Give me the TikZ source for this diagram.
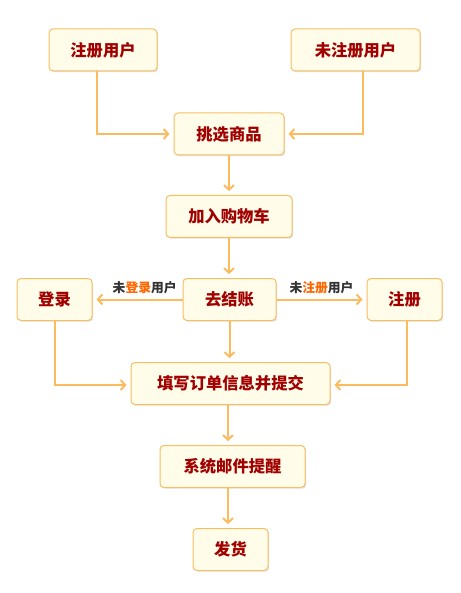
\documentclass[tikz,border=0pt]{standalone}
\usepackage{fontspec}
\setmainfont{Noto Sans CJK SC}
\usetikzlibrary{arrows.meta,shadows}
\definecolor{ln}{HTML}{FDBB5F}
\definecolor{bd}{HTML}{F7BF62}
\definecolor{bg}{HTML}{FFFDE9}
\definecolor{tx}{HTML}{A00000}
\definecolor{lbg}{HTML}{333333}
\definecolor{lbo}{HTML}{FF6600}
\begin{document}
\begin{tikzpicture}[x=1pt,y=-1pt,
  box/.style={draw=bd, fill=bg, line width=1pt, rounded corners=4pt, inner sep=0pt,
    font=\bfseries\fontsize{16.3}{16}\selectfont, text=tx,
    drop shadow={shadow xshift=1.2pt, shadow yshift=-1.2pt, fill=black, opacity=0.12}},
  conn/.style={draw=ln, line width=2pt, -{Straight Barb[length=4.5pt,width=10pt]}, shorten >=4pt},
  lab/.style={font=\bfseries\fontsize{12.8}{12}\selectfont, text=lbg, inner sep=0pt}]
\useasboundingbox (0,0) rectangle (460,593);
\node[box, minimum width=108pt, minimum height=42pt] (reg) at (103,50) {注册用户};
\node[box, minimum width=129pt, minimum height=42pt] (unreg) at (355.5,50) {未注册用户};
\node[box, minimum width=110pt, minimum height=42pt] (pick) at (229,134) {挑选商品};
\node[box, minimum width=126pt, minimum height=42pt] (cart) at (229,216.5) {加入购物车};
\node[box, minimum width=93pt, minimum height=42pt] (pay) at (229.5,299.5) {去结账};
\node[box, minimum width=75pt, minimum height=42pt] (login) at (54.5,299.5) {登录};
\node[box, minimum width=75pt, minimum height=42pt] (signup) at (404.5,299.5) {注册};
\node[box, minimum width=199pt, minimum height=42pt] (fill) at (230.5,383.5) {填写订单信息并提交};
\node[box, minimum width=145pt, minimum height=42pt] (mail) at (232.5,466.5) {系统邮件提醒};
\node[box, minimum width=75pt, minimum height=42pt] (ship) at (230.5,549.5) {发货};

\draw[conn] ([xshift=-6pt]reg.south) |- (pick.west);
\draw[conn] ([xshift=7.5pt]unreg.south) |- (pick.east);
\draw[conn] (pick.south) -- (pick.south |- cart.north);
\draw[conn] (cart.south) -- (cart.south |- pay.north);
\draw[conn] (pay.west) -- (login.east)
  node[lab, pos=0.42, above=5pt] {未{\color{lbo}登录}用户};
\draw[conn] (pay.east) -- (signup.west)
  node[lab, pos=0.5, above=5pt] {未{\color{lbo}注册}用户};
\draw[conn] (pay.south) -- (pay.south |- fill.north);
\draw[conn] (login.south) |- ([yshift=-1.5pt]fill.west);
\draw[conn] ([xshift=2.5pt]signup.south) |- ([yshift=-1.5pt]fill.east);
\draw[conn] (fill.south -| 228,0) -- (228,445);
\draw[conn] (mail.south -| 228,0) -- (228,528);
\end{tikzpicture}
\end{document}
